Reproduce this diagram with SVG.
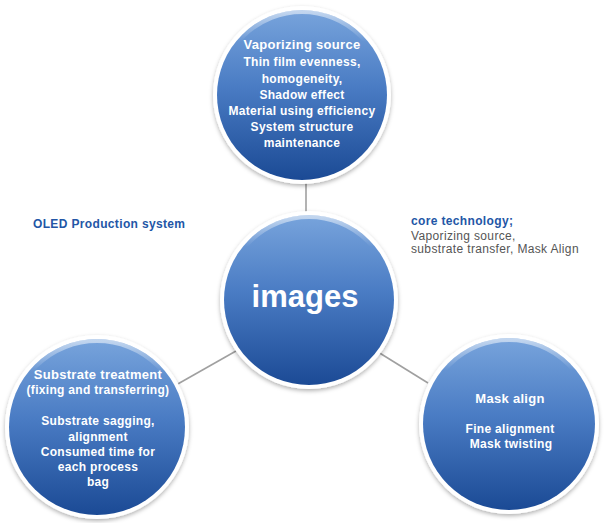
<svg xmlns="http://www.w3.org/2000/svg" width="607" height="523" viewBox="0 0 607 523">
  <defs>
    <linearGradient id="blue" x1="0" y1="0" x2="0" y2="1">
      <stop offset="0" stop-color="#78a4dc"/>
      <stop offset="0.45" stop-color="#4a7cc4"/>
      <stop offset="1" stop-color="#1b4a95"/>
    </linearGradient>
    <linearGradient id="rim" x1="0" y1="0" x2="0" y2="1">
      <stop offset="0" stop-color="#ffffff" stop-opacity="0.55"/>
      <stop offset="0.18" stop-color="#ffffff" stop-opacity="0"/>
      <stop offset="1" stop-color="#ffffff" stop-opacity="0"/>
    </linearGradient>
    <filter id="shadow" x="-20%" y="-20%" width="140%" height="140%">
      <feDropShadow dx="0" dy="2" stdDeviation="2" flood-color="#000000" flood-opacity="0.3"/>
    </filter>
  </defs>
  <style>
    .ring { fill: #ffffff; filter: url(#shadow); }
    .disc { fill: url(#blue); }
    .rim { fill: none; stroke: url(#rim); stroke-width: 4; }
    .conn { stroke: #a0a0a0; stroke-width: 1.6; fill: none; }
    .t { font-family: "Liberation Sans", Arial, sans-serif; fill: #ffffff; text-anchor: middle; font-weight: bold; }
    .title { font-size: 13px; letter-spacing: 0.3px; }
    .body { font-size: 12px; letter-spacing: 0.3px; }
    .big { font-size: 31px; }
    .blue { font-family: "Liberation Sans", Arial, sans-serif; fill: #2356a6; font-weight: bold; font-size: 12px; letter-spacing: 0.35px; }
    .gray { font-family: "Liberation Sans", Arial, sans-serif; fill: #555555; font-size: 12px; letter-spacing: 0.35px; }
  </style>
  <rect width="607" height="523" fill="#ffffff"/>

  <g id="connectors">
    <line class="conn" x1="306" y1="182" x2="306" y2="214"/>
    <line class="conn" x1="176" y1="385" x2="236" y2="351"/>
    <line class="conn" x1="378" y1="352" x2="428" y2="383"/>
  </g>

  <g id="node-vaporizing">
    <circle class="ring" cx="302" cy="95" r="89"/>
    <circle class="disc" cx="302" cy="95" r="85"/>
    <circle class="rim" cx="302" cy="95" r="83"/>
    <text class="t title" x="302" y="49">Vaporizing source</text>
    <text class="t body" x="302" y="66">Thin film evenness,</text>
    <text class="t body" x="302" y="83">homogeneity,</text>
    <text class="t body" x="302" y="99">Shadow effect</text>
    <text class="t body" x="302" y="115">Material using efficiency</text>
    <text class="t body" x="302" y="131">System structure</text>
    <text class="t body" x="302" y="147">maintenance</text>
  </g>

  <g id="node-images">
    <circle class="ring" cx="309" cy="300" r="89"/>
    <circle class="disc" cx="309" cy="300" r="85"/>
    <circle class="rim" cx="309" cy="300" r="83"/>
    <text class="t big" x="305" y="307">images</text>
  </g>

  <g id="node-substrate">
    <circle class="ring" cx="97" cy="427" r="92"/>
    <circle class="disc" cx="97" cy="427" r="88"/>
    <circle class="rim" cx="97" cy="427" r="86"/>
    <text class="t title" x="98" y="379">Substrate treatment</text>
    <text class="t body" x="98" y="394">(fixing and transferring)</text>
    <text class="t body" x="98" y="425">Substrate sagging,</text>
    <text class="t body" x="98" y="441">alignment</text>
    <text class="t body" x="98" y="456">Consumed time for</text>
    <text class="t body" x="98" y="471">each process</text>
    <text class="t body" x="98" y="486">bag</text>
  </g>

  <g id="node-mask">
    <circle class="ring" cx="509" cy="424" r="90"/>
    <circle class="disc" cx="509" cy="424" r="86"/>
    <circle class="rim" cx="509" cy="424" r="84"/>
    <text class="t title" x="510" y="403">Mask align</text>
    <text class="t body" x="510" y="433">Fine alignment</text>
    <text class="t body" x="511" y="448">Mask twisting</text>
  </g>

  <g id="label-oled">
    <text class="blue" x="33" y="228">OLED Production system</text>
  </g>
  <g id="label-core">
    <text class="blue" x="411" y="225">core technology;</text>
    <text class="gray" x="411" y="240">Vaporizing source,</text>
    <text class="gray" x="411" y="253">substrate transfer, Mask Align</text>
  </g>
</svg>
